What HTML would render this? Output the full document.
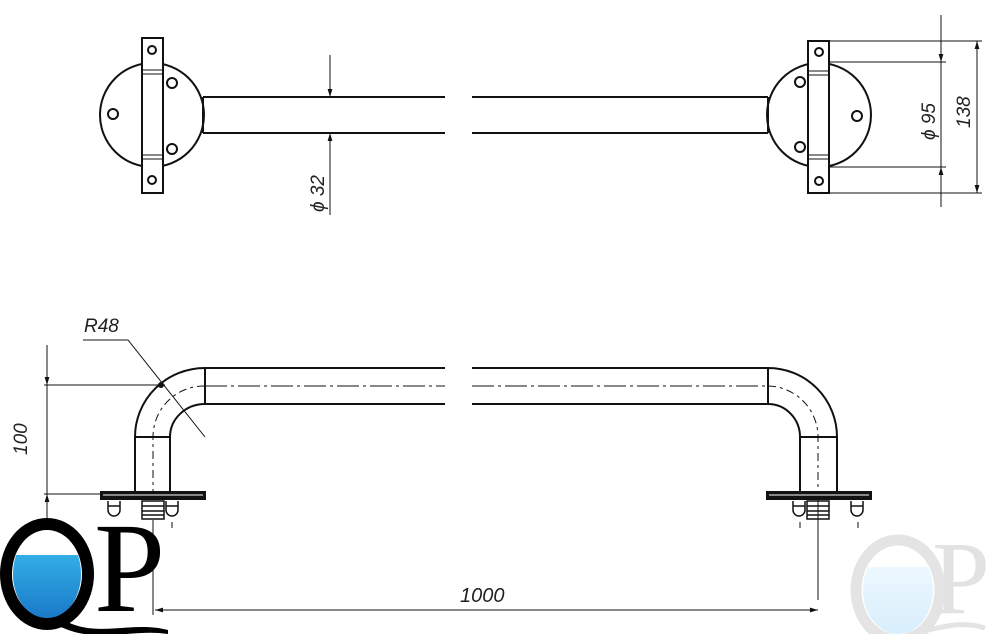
<!DOCTYPE html>
<html><head><meta charset="utf-8"><style>
html,body{margin:0;padding:0;background:#fff;}
svg{display:block;}
.d{font-family:"Liberation Sans",sans-serif;font-style:italic;fill:#222;}
.s{font-family:"Liberation Serif",serif;font-style:normal;}
</style></head><body>
<svg width="1000" height="634" viewBox="0 0 1000 634" xmlns="http://www.w3.org/2000/svg">
<defs>
<marker id="ar" viewBox="0 0 10 10" refX="10" refY="5" markerWidth="10" markerHeight="8" orient="auto-start-reverse" markerUnits="userSpaceOnUse"><path d="M0,2 L10,5 L0,8 Z" fill="#111"/></marker>
<linearGradient id="wat" x1="0" y1="0" x2="0" y2="1"><stop offset="0" stop-color="#e8f8ff"/><stop offset="0.2" stop-color="#37b5ea"/><stop offset="1" stop-color="#1a78c9"/></linearGradient>
<linearGradient id="wat2" x1="0" y1="0" x2="0" y2="1"><stop offset="0" stop-color="#f3fbff"/><stop offset="1" stop-color="#d8eefb"/></linearGradient>
</defs>
<g stroke="#111" fill="none" stroke-width="2">
<circle cx="152" cy="115" r="52" fill="#fff"/>
<rect x="142" y="38" width="21" height="155" fill="#fff"/>
<line x1="142" y1="70" x2="163" y2="70" stroke-width="1"/><line x1="142" y1="74" x2="163" y2="74" stroke-width="1"/>
<line x1="142" y1="155" x2="163" y2="155" stroke-width="1"/><line x1="142" y1="159" x2="163" y2="159" stroke-width="1"/>
<circle cx="152" cy="50" r="4"/><circle cx="152" cy="180" r="4"/>
<circle cx="172" cy="83" r="5"/><circle cx="172" cy="149" r="5"/><circle cx="113" cy="114" r="5"/>
<path d="M203,97 H445 M203,133 H445 M203,97 V133"/>
<path d="M472,97 H768 M472,133 H768"/>
<circle cx="819" cy="115" r="52" fill="#fff"/>
<path d="M768,97 V133"/>
<rect x="808" y="41" width="21" height="152" fill="#fff"/>
<line x1="808" y1="71" x2="829" y2="71" stroke-width="1"/><line x1="808" y1="75" x2="829" y2="75" stroke-width="1"/>
<line x1="808" y1="155" x2="829" y2="155" stroke-width="1"/><line x1="808" y1="159" x2="829" y2="159" stroke-width="1"/>
<circle cx="819" cy="52" r="4"/><circle cx="819" cy="181" r="4"/>
<circle cx="800" cy="82" r="5"/><circle cx="800" cy="147" r="5"/><circle cx="857" cy="116" r="5"/>
</g>
<g stroke="#111" stroke-width="1" fill="none">
<line x1="829" y1="41" x2="982" y2="41"/><line x1="829" y1="193" x2="982" y2="193"/>
<line x1="829" y1="62" x2="946" y2="62"/><line x1="829" y1="167" x2="946" y2="167"/>
<line x1="941" y1="15" x2="941" y2="62" marker-end="url(#ar)"/>
<line x1="941" y1="207" x2="941" y2="167" marker-end="url(#ar)"/>
<line x1="941" y1="62" x2="941" y2="167"/>
<line x1="977" y1="41" x2="977" y2="193" marker-start="url(#ar)" marker-end="url(#ar)"/>
<line x1="330" y1="55" x2="330" y2="97" marker-end="url(#ar)"/>
<line x1="330" y1="215" x2="330" y2="133" marker-end="url(#ar)"/>
</g>
<text class="d" transform="translate(935,140) rotate(-90)" font-size="19">ϕ 95</text>
<text class="d" transform="translate(970,128) rotate(-90)" font-size="19">138</text>
<text class="d" transform="translate(324,212) rotate(-90)" font-size="19">ϕ 32</text>

<g stroke="#111" fill="none" stroke-width="2">
<path d="M205,368 H445 M205,404 H445 M472,368 H768 M472,404 H768"/>
<path d="M205,368 A70,69 0 0 0 135,437 V491 M205,404 A35,33 0 0 0 170,437 V491 M205,368 V404 M135,437 H170"/>
<path d="M768,368 A69,69 0 0 1 837,437 V491 M768,404 A32,33 0 0 1 800,437 V491 M768,368 V404 M800,437 H837"/>
</g>
<g stroke="#111" fill="none" stroke-width="1">
<path d="M205,386 H445 M472,386 H768" stroke-dasharray="22,4,3,4"/>
<path d="M205,386 A51,51 0 0 0 153,437 V520" stroke-dasharray="8,4,3,4"/>
<path d="M768,386 A51,51 0 0 1 818,437 V500" stroke-dasharray="8,4,3,4"/>
</g>
<rect x="100" y="491" width="106" height="9" fill="#111"/>
<line x1="103" y1="495" x2="203" y2="495" stroke="#fff" stroke-width="1"/>
<rect x="766" y="491" width="106" height="9" fill="#111"/>
<line x1="769" y1="495" x2="869" y2="495" stroke="#fff" stroke-width="1"/>
<g stroke="#111" fill="#fff" stroke-width="1.5">
<rect x="142" y="501" width="22" height="18"/><path d="M142,506 H164 M142,511 H164 M142,515 H164"/>
<path d="M108,501 v9 a6,6 0 0 0 12,0 v-9 M108,506 h12"/>
<path d="M166,501 v9 a6,6 0 0 0 12,0 v-9 M166,506 h12"/>
<rect x="807" y="501" width="22" height="18"/><path d="M807,506 H829 M807,511 H829 M807,515 H829"/>
<path d="M793,501 v9 a6,6 0 0 0 12,0 v-9 M793,506 h12"/>
<path d="M851,501 v9 a6,6 0 0 0 12,0 v-9 M851,506 h12"/>
</g>
<g stroke="#111" stroke-width="1" fill="none">
<line x1="172" y1="522" x2="172" y2="528"/><line x1="800" y1="522" x2="800" y2="528"/><line x1="858" y1="522" x2="858" y2="528"/>
<line x1="44" y1="385" x2="165" y2="385"/><line x1="44" y1="494" x2="100" y2="494"/>
<line x1="47" y1="345" x2="47" y2="385" marker-end="url(#ar)"/>
<line x1="47" y1="535" x2="47" y2="494" marker-end="url(#ar)"/>
<line x1="47" y1="385" x2="47" y2="494"/>
<line x1="153" y1="520" x2="153" y2="615"/><line x1="818" y1="500" x2="818" y2="600"/>
<line x1="155" y1="610" x2="818" y2="610" marker-start="url(#ar)" marker-end="url(#ar)"/>
<path d="M83,340 H128 L205,437"/>
</g>
<circle cx="161" cy="385" r="3" fill="#111"/>
<text class="d" transform="translate(27,455) rotate(-90)" font-size="19">100</text>
<text class="d" x="460" y="602" font-size="20">1000</text>
<text class="d" x="84" y="332" font-size="19">R48</text>

<ellipse cx="47" cy="574" rx="34" ry="45" fill="url(#wat)"/>
<rect x="10" y="528" width="75" height="27" fill="#fff"/>
<ellipse cx="47" cy="574" rx="41" ry="50" fill="none" stroke="#000" stroke-width="12"/>
<path d="M60,618 C95,640 130,620 168,630 L168,634 C130,628 95,646 55,624 Z" fill="#000"/>
<text class="s" x="94" y="611" font-size="128" fill="#000">P</text>

<ellipse cx="898" cy="590" rx="35" ry="44" fill="url(#wat2)"/>
<rect x="860" y="545" width="75" height="22" fill="#fff"/>
<ellipse cx="898" cy="590" rx="42" ry="50" fill="none" stroke="#e4e4e4" stroke-width="11"/>
<path d="M910,634 C940,628 960,620 985,628" fill="none" stroke="#e4e4e4" stroke-width="5"/>
<text class="s" x="932" y="613" font-size="104" fill="#e2e2e2">P</text>
</svg>
</body></html>
